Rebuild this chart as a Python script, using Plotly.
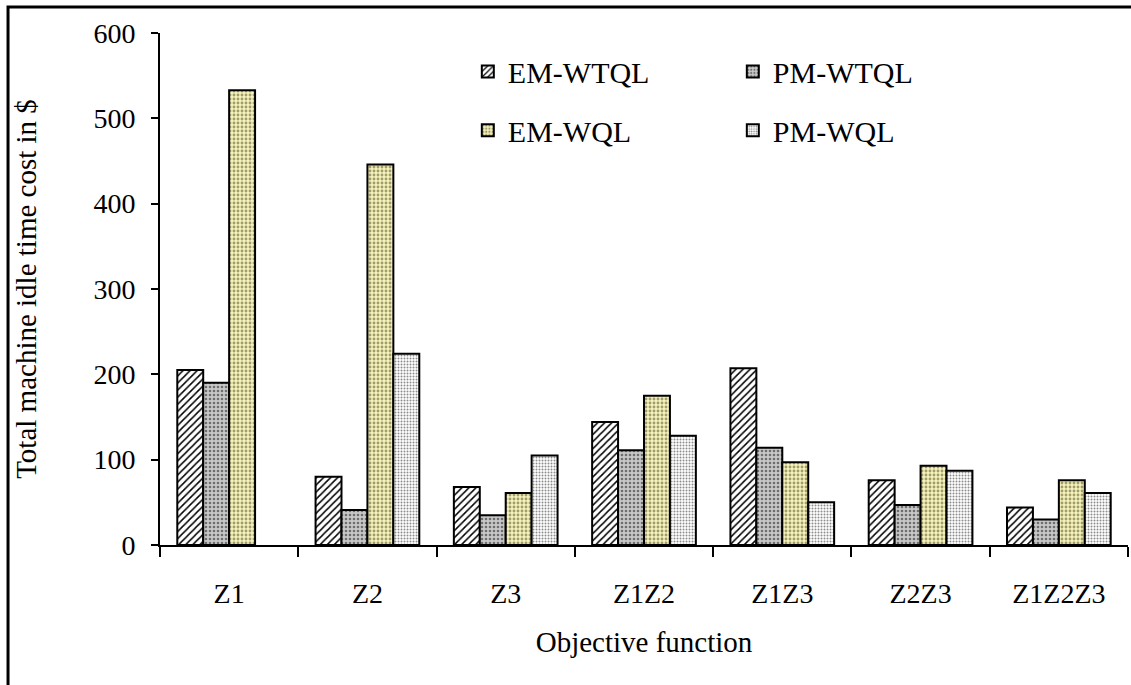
import plotly.graph_objects as go

# Objective-function scenarios on the category axis
categories = ["Z1", "Z2", "Z3", "Z1Z2", "Z1Z3", "Z2Z3", "Z1Z2Z3"]

# Total machine idle time cost ($) per maintenance / quality-loss setting
em_wtql = [205, 80, 68, 144, 207, 76, 44]
pm_wtql = [190, 41, 35, 111, 114, 47, 30]
em_wql = [533, 446, 61, 175, 97, 93, 76]
pm_wql = [None, 224, 105, 128, 50, 87, 61]

y_ticks = [0, 100, 200, 300, 400, 500, 600]

FONT = "Liberation Serif, Times New Roman, serif"
TICK_FS = 28
TITLE_FS = 29
LEGEND_FS = 30

series = [
    ("EM-WTQL", em_wtql, dict(shape="/", fgcolor="#000000", bgcolor="#ffffff", size=5, solidity=0.3), "legend"),
    ("PM-WTQL", pm_wtql, dict(shape=".", fgcolor="#6e6e6e", bgcolor="#c8c8c8", size=4, solidity=0.35), "legend"),
    ("EM-WQL", em_wql, dict(shape=".", fgcolor="#a09c6c", bgcolor="#f6f2bc", size=4, solidity=0.4), "legend2"),
    ("PM-WQL", pm_wql, dict(shape=".", fgcolor="#8c8c8c", bgcolor="#ffffff", size=3, solidity=0.35), "legend2"),
]

fig = go.Figure()
for name, vals, pat, leg in series:
    fig.add_trace(go.Bar(
        x=categories, y=vals, name=name, legend=leg,
        marker=dict(color=pat["bgcolor"], pattern=dict(fillmode="replace", **pat),
                    line=dict(color="#000000", width=2)),
    ))

legend_common = dict(
    orientation="h", xanchor="left", yanchor="middle",
    entrywidth=220, entrywidthmode="pixels",
    font=dict(family=FONT, size=LEGEND_FS, color="#000000"),
    bgcolor="rgba(0,0,0,0)", itemclick=False, itemdoubleclick=False,
)

fig.update_layout(
    width=1131, height=685,
    margin=dict(l=160, r=3, t=33, b=140),
    paper_bgcolor="#ffffff", plot_bgcolor="#ffffff",
    font=dict(family=FONT, size=TICK_FS, color="#000000"),
    barmode="group", bargap=0.25, bargroupgap=0,
    showlegend=True,
    legend=dict(x=0.318, y=0.925, **legend_common),
    legend2=dict(x=0.318, y=0.81, **legend_common),
    xaxis=dict(
        type="category", categoryorder="array", categoryarray=categories,
        showline=True, linecolor="#000000", linewidth=2,
        ticks="outside", tickson="boundaries", ticklen=10, tickwidth=2, tickcolor="#000000",
        ticklabelstandoff=22, showgrid=False, zeroline=False,
        tickfont=dict(family=FONT, size=TICK_FS),
        title=dict(text="Objective function", standoff=24,
                   font=dict(family=FONT, size=TITLE_FS)),
    ),
    yaxis=dict(
        range=[0, 600], tickvals=y_ticks,
        showline=True, linecolor="#000000", linewidth=2,
        ticks="outside", ticklen=7, tickwidth=2, tickcolor="#000000",
        ticklabelstandoff=10, showgrid=False, zeroline=False,
        tickfont=dict(family=FONT, size=TICK_FS),
        title=dict(text="Total machine idle time cost in $", standoff=48,
                   font=dict(family=FONT, size=TITLE_FS)),
    ),
    shapes=[dict(type="rect", xref="paper", yref="paper",
                 x0=-0.157, x1=1.2, y0=-0.6, y1=1.051,
                 line=dict(color="#000000", width=3), fillcolor="rgba(0,0,0,0)")],
)

fig.write_html("out.html")
